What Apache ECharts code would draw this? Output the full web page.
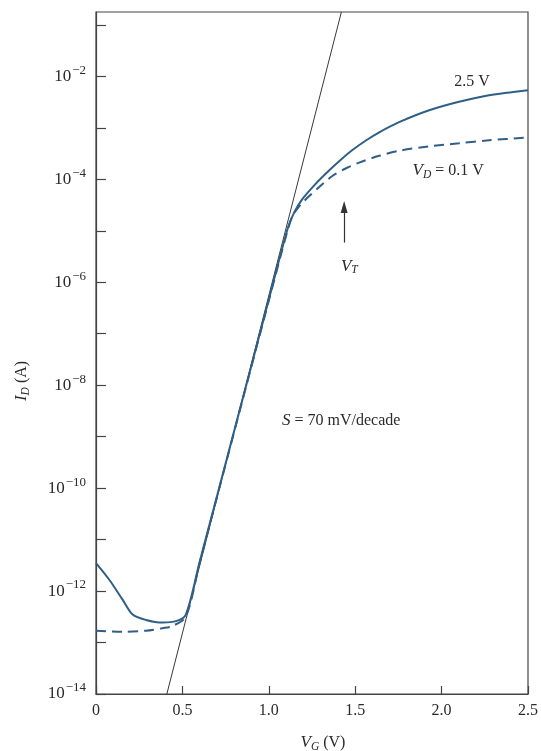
<!DOCTYPE html>
<html>
<head>
<meta charset="utf-8">
<script src="https://cdn.jsdelivr.net/npm/echarts@6/dist/echarts.min.js"></script>
<style>
  html, body { margin: 0; padding: 0; background: #fff; }
  #chart { width: 541px; height: 751px; }
</style>
</head>
<body>
<div id="chart"></div>
<script>
// Gate voltage (V) and drain current (A) for the two drain biases
const vgHigh = [0, 0.077, 0.154, 0.212, 0.289, 0.385, 0.463, 0.52, 0.6, 0.8, 1.0, 1.108,
  1.147, 1.193, 1.263, 1.332, 1.407, 1.482, 1.564, 1.639, 1.754, 1.928, 2.101, 2.275, 2.5];
const idHigh = [3.5e-12, 1.66e-12, 6.8e-13, 3.5e-13, 2.75e-13, 2.45e-13, 2.6e-13, 3.5e-13, 3.7e-12, 1.3e-9, 4.6e-7, 1.07e-5,
  2.28e-5, 4.08e-5, 7.64e-5, 1.31e-4, 2.24e-4, 3.66e-4, 5.74e-4, 8.2e-4, 1.29e-3, 2.2e-3, 3.22e-3, 4.31e-3, 5.4e-3];

const vgLow = [0, 0.154, 0.289, 0.385, 0.443, 0.52, 0.6, 0.8, 1.0, 1.108,
  1.137, 1.176, 1.234, 1.303, 1.368, 1.448, 1.523, 1.639, 1.754, 1.928, 2.101, 2.275, 2.5];
const idLow = [1.7e-13, 1.62e-13, 1.7e-13, 1.9e-13, 2.1e-13, 3.2e-13, 3.5e-12, 1.26e-9, 4.4e-7, 1.0e-5,
  1.93e-5, 2.99e-5, 4.73e-5, 7.64e-5, 1.16e-4, 1.64e-4, 2.11e-4, 2.86e-4, 3.58e-4, 4.38e-4, 5.01e-4, 5.74e-4, 6.47e-4];

// Extrapolated subthreshold slope line
const slopeVg = [0.41, 1.42];
const slopeId = [1e-14, 0.178];

// Axis ranges and tick labels
const xTicks = [0, 0.5, 1.0, 1.5, 2.0, 2.5];
const xTickLabels = ['0', '0.5', '1.0', '1.5', '2.0', '2.5'];
const yMin = 1e-14;
const yMax = 0.178;
const yLabelExponents = [-14, -12, -10, -8, -6, -4, -2];

// Threshold-voltage arrow (data coordinates)
const vtArrow = [[1.436, 5.9e-6], [1.436, 2.9e-5]];

const serif = '"Liberation Serif", "DejaVu Serif", serif';
const blue = '#2f5f87';
const ink = '#2a2a2a';

function pairs(xs, ys) { return xs.map((x, i) => [x, ys[i]]); }

const chart = echarts.init(document.getElementById('chart'), null, { renderer: 'canvas' });

const option = {
  backgroundColor: '#fff',
  animation: false,
  grid: { left: 96, right: 12, top: 12, bottom: 57, show: true, borderColor: '#444', borderWidth: 1.2, backgroundColor: 'transparent' },
  xAxis: {
    type: 'value', min: 0, max: 2.5, interval: 0.5,
    axisLine: { lineStyle: { color: '#444', width: 1.2 } },
    axisTick: { inside: true, length: 8, lineStyle: { color: '#444', width: 1.2 } },
    splitLine: { show: false },
    axisLabel: {
      margin: 9, color: ink, fontFamily: serif, fontSize: 16,
      formatter: v => { const i = xTicks.findIndex(t => Math.abs(t - v) < 1e-9); return i >= 0 ? xTickLabels[i] : ''; }
    }
  },
  yAxis: {
    type: 'log', logBase: 10, min: yMin, max: yMax, interval: 1,
    axisLine: { lineStyle: { color: '#444', width: 1.2 } },
    axisTick: { inside: true, length: 10, lineStyle: { color: '#444', width: 1.2 } },
    minorTick: { show: false },
    splitLine: { show: false },
    axisLabel: {
      margin: 10, color: ink, fontFamily: serif, showMaxLabel: false,
      formatter: v => {
        const e = Math.round(Math.log10(v));
        if (Math.abs(Math.log10(v) - e) > 1e-6 || yLabelExponents.indexOf(e) < 0) return '';
        return '{b|10}{e|\u2212' + Math.abs(e) + '}';
      },
      rich: {
        b: { fontFamily: serif, fontSize: 17, color: ink },
        e: { fontFamily: serif, fontSize: 13, color: ink, padding: [0, 0, 12, 1] }
      }
    }
  },
  series: [
    {
      name: 'slope', type: 'line', data: pairs(slopeVg, slopeId), symbol: 'none', z: 1,
      lineStyle: { color: '#222', width: 0.9 }
    },
    {
      name: 'VD = 2.5 V', type: 'line', data: pairs(vgHigh, idHigh), symbol: 'none',
      smooth: 0.3, z: 3,
      lineStyle: { color: blue, width: 2 }
    },
    {
      name: 'VD = 0.1 V', type: 'line', data: pairs(vgLow, idLow), symbol: 'none',
      smooth: 0.3, z: 2,
      lineStyle: { color: blue, width: 2, type: [10, 6] },
      markLine: {
        silent: true, symbol: ['none', 'triangle'], symbolSize: [7, 12],
        label: { show: false },
        lineStyle: { color: '#333', width: 1.2, type: 'solid' },
        data: [[{ coord: vtArrow[0] }, { coord: vtArrow[1] }]]
      }
    }
  ]
};

chart.setOption(option);

// Text annotations placed in data coordinates
const notes = [
  { at: [2.176, 7.9e-3], text: '2.5 V' },
  { at: [2.038, 1.45e-4], text: '{i|V}{s|D}{n| = 0.1 V}' },
  { at: [1.466, 2.05e-6], text: '{i|V}{s|T}' },
  { at: [1.419, 2.05e-9], text: '{i|S}{n| = 70 mV/decade}' }
];
const noteRich = {
  i: { fontFamily: serif, fontSize: 17, fontStyle: 'italic', fill: ink },
  s: { fontFamily: serif, fontSize: 11.5, fontStyle: 'italic', fill: ink, padding: [8, 0, 0, 0] },
  n: { fontFamily: serif, fontSize: 16, fill: ink }
};
const graphics = notes.map(n => {
  const p = chart.convertToPixel({ gridIndex: 0 }, n.at);
  return {
    type: 'text', x: p[0], y: p[1], silent: true,
    style: { text: n.text, rich: noteRich, font: '16px ' + serif, fill: ink, align: 'center', verticalAlign: 'middle' }
  };
});

// Axis titles
graphics.push({
  type: 'text', x: 323, y: 743, silent: true,
  style: { text: '{i|V}{s|G}{n| (V)}', rich: noteRich, font: '16px ' + serif, fill: ink, align: 'center', verticalAlign: 'middle' }
});
graphics.push({
  type: 'text', x: 22, y: 381, rotation: Math.PI / 2, silent: true,
  style: { text: '{i|I}{s|D}{n| (A)}', rich: noteRich, font: '16px ' + serif, fill: ink, align: 'center', verticalAlign: 'middle' }
});

chart.setOption({ graphic: graphics });
</script>
</body>
</html>
